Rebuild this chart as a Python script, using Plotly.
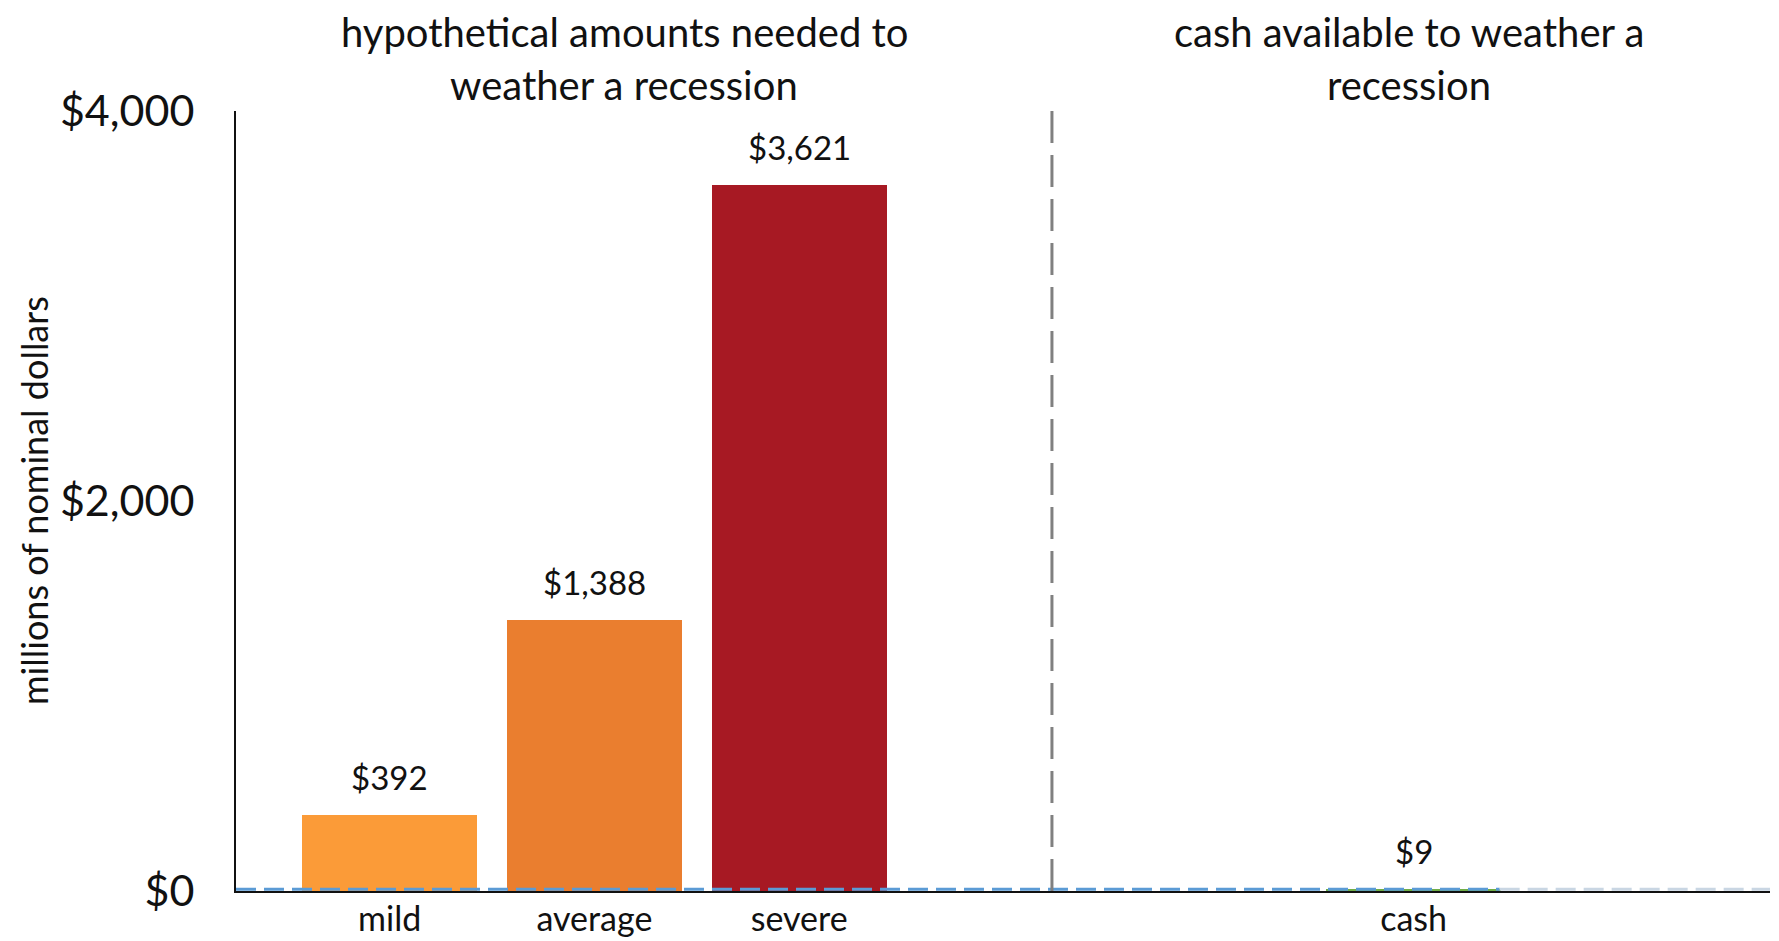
import plotly.graph_objects as go

categories = ["mild", "average", "severe", "cash"]
positions = [0, 1, 2, 5]
values = [392, 1388, 3621, 9]
labels = ["$392", "$1,388", "$3,621", "$9"]
bar_colors = ["#FB9B38", "#EA7E2F", "#A71923", "#70AD47"]
y_ticks = [0, 2000, 4000]
y_tick_text = ["$0", "$2,000", "$4,000"]
cash_level = 9
divider_x = 3.234

FONT = "Lato"
TXT = "#111111"

# page body has an 8px margin: size the figure to fit the window
W, H = 1771, 933
ML, MR, MT, MB = 228, 9, 103, 50

fig = go.Figure()
fig.add_trace(go.Bar(
    x=positions, y=values, width=0.854,
    marker=dict(color=bar_colors, line=dict(width=0)),
    showlegend=False, hoverinfo="skip",
))

for xp, v, t in zip(positions, values, labels):
    fig.add_annotation(x=xp, y=v, xref="x", yref="y", text=t, showarrow=False,
                       yanchor="middle", yshift=38,
                       font=dict(family=FONT, size=33, color=TXT))

# cash level reference line
fig.add_trace(go.Scatter(
    x=[-0.75, 5.42], y=[cash_level, cash_level], mode="lines",
    line=dict(color="#5B9BD5", width=3, dash="20px,8px"),
    showlegend=False, hoverinfo="skip", cliponaxis=False,
))
fig.add_trace(go.Scatter(
    x=[5.42, 6.74], y=[cash_level, cash_level], mode="lines",
    line=dict(color="#C9D6E3", width=3, dash="20px,8px"),
    showlegend=False, hoverinfo="skip", cliponaxis=False,
))

# divider
fig.add_shape(type="line", xref="x", yref="y", x0=divider_x, x1=divider_x, y0=0, y1=4000,
              line=dict(color="#808080", width=3, dash="32px,12px"))

titles = [
    (1.146, ["hypothetical amounts needed to", "weather a recession"]),
    (4.976, ["cash available to weather a", "recession"]),
]
for xc, lines in titles:
    for line, ys in zip(lines, [79, 26]):
        fig.add_annotation(x=xc, y=1.0, xref="x", yref="paper", yshift=ys,
                           text=line, showarrow=False, yanchor="middle",
                           font=dict(family=FONT, size=40, color=TXT))

# y-axis title
fig.add_annotation(x=(26 - ML) / (W - ML - MR), y=0.5, xref="paper", yref="paper",
                   xanchor="center", yanchor="middle",
                   text="millions of nominal dollars", showarrow=False, textangle=-90,
                   font=dict(family=FONT, size=36, color=TXT))

fig.update_layout(
    width=W, height=H,
    margin=dict(l=ML, r=MR, t=MT, b=MB),
    paper_bgcolor="white", plot_bgcolor="white",
    font=dict(family=FONT, color=TXT),
    bargap=0,
    xaxis=dict(range=[-0.75, 6.74], tickvals=positions, ticktext=categories,
               showgrid=False, zeroline=False, showline=True, linecolor=TXT,
               linewidth=2, ticks="", automargin=False, ticklabelstandoff=-3,
               tickfont=dict(family=FONT, size=34, color=TXT)),
    yaxis=dict(range=[0, 4000], tickvals=y_ticks, ticktext=y_tick_text,
               showgrid=False, zeroline=False, showline=True, linecolor=TXT,
               linewidth=2, ticks="", ticklabelstandoff=31, automargin=False,
               tickfont=dict(family=FONT, size=43, color=TXT)),
)

fig.write_html("out.html")
